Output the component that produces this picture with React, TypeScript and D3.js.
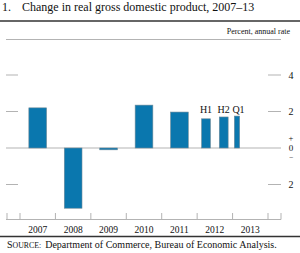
import React from "react";
import * as d3 from "d3";

const annualYears = [2007, 2008, 2009, 2010, 2011];
const annualValues = [2.2, -3.3, -0.1, 2.35, 1.97];
const subLabels = ["H1", "H2", "Q1"];
const subStarts = [2012, 2012.5, 2013];
const subLengths = [0.5, 0.5, 0.25];
const subValues = [1.6, 1.7, 1.75];
const yearLabels = ["2007", "2008", "2009", "2010", "2011", "2012", "2013"];
const tickValues = [4, 2, -2];

const W = 300;
const H = 253;
const FONT = "'Liberation Serif', 'Times New Roman', serif";
const BAR = "#0a77ae";
const EDGE = "#6e8a99";
const GRAY = "#b3b3b3";

export default function App() {
  const x = d3.scaleLinear().domain([2007, 2014]).range([20, 268]);
  const y = d3.scaleLinear().domain([-4, 4]).range([221, 75]);
  const yearTicks = d3.range(2007, 2015);

  return (
    <svg
      width={W}
      height={H}
      style={{ position: "absolute", left: 0, top: 0, display: "block", background: "#fff" }}
      fontFamily={FONT}
    >
      <text x={2} y={11} fontSize={12} fill="#111">1.</text>
      <text x={22} y={11} fontSize={12} fill="#111">Change in real gross domestic product, 2007–13</text>
      <line x1={0} x2={300} y1={21} y2={21} stroke="#333" strokeWidth={1.5} />
      <text x={290} y={34} fontSize={8} textAnchor="end" fill="#111">Percent, annual rate</text>
      <line x1={6} x2={281} y1={39.5} y2={39.5} stroke={GRAY} strokeWidth={1} />

      {tickValues.map((v) => (
        <g key={"t" + v}>
          <line x1={6} x2={18} y1={y(v)} y2={y(v)} stroke={GRAY} strokeWidth={1} />
          <line x1={268} x2={281} y1={y(v)} y2={y(v)} stroke={GRAY} strokeWidth={1} />
          <text x={291} y={y(v) + 3.5} fontSize={10} textAnchor="middle" fill="#111">
            {Math.abs(v)}
          </text>
        </g>
      ))}
      <text x={291} y={y(0) - 7.5} fontSize={8.5} textAnchor="middle" fill="#111">+</text>
      <text x={291} y={y(0) + 3} fontSize={9} textAnchor="middle" fill="#111">0</text>
      <text x={291} y={y(0) + 12} fontSize={7.5} textAnchor="middle" fill="#111">−</text>

      <line x1={6} x2={281} y1={y(0)} y2={y(0)} stroke={GRAY} strokeWidth={1} />

      {annualYears.map((yr, i) => {
        const v = annualValues[i];
        const x0 = x(yr + 0.25);
        const x1 = x(yr + 0.75);
        const top = Math.min(y(v), y(0));
        const h = Math.abs(y(v) - y(0));
        return (
          <rect key={yr} x={x0} y={top} width={x1 - x0} height={h} fill={BAR} stroke={EDGE} strokeWidth={0.6} />
        );
      })}

      {subLabels.map((lab, i) => {
        const s = subStarts[i];
        const len = subLengths[i];
        const v = subValues[i];
        const frac = len === 0.25 ? 0.6 : 0.5;
        const c = x(s + len / 2);
        const w = x(2007 + len * frac) - x(2007);
        const top = Math.min(y(v), y(0));
        const h = Math.abs(y(v) - y(0));
        return (
          <g key={lab}>
            <rect x={c - w / 2} y={top} width={w} height={h} fill={BAR} stroke={EDGE} strokeWidth={0.6} />
            <text x={c + (len === 0.25 ? 1.5 : 0)} y={113} fontSize={10} textAnchor="middle" fill="#111">
              {lab}
            </text>
          </g>
        );
      })}

      <line x1={6} x2={281} y1={219.5} y2={219.5} stroke={GRAY} strokeWidth={1} />
      {[7, 281].map((px) => (
        <line key={"e" + px} x1={px} x2={px} y1={213} y2={219.5} stroke={GRAY} strokeWidth={1} />
      ))}
      {yearTicks.map((yr) => (
        <line key={"yt" + yr} x1={x(yr)} x2={x(yr)} y1={213} y2={219.5} stroke={GRAY} strokeWidth={1} />
      ))}
      {yearLabels.map((lab, i) => (
        <text key={lab} x={x(2007 + i + 0.5)} y={233} fontSize={9.5} textAnchor="middle" fill="#111">
          {lab}
        </text>
      ))}

      <line x1={0} x2={300} y1={236.5} y2={236.5} stroke="#333" strokeWidth={1.5} />
      <text x={7} y={248} fontSize={10} fill="#111">
        <tspan>S</tspan>
        <tspan fontSize={7.8}>OURCE:</tspan>
        <tspan dx={4}>Department of Commerce, Bureau of Economic Analysis.</tspan>
      </text>
    </svg>
  );
}
